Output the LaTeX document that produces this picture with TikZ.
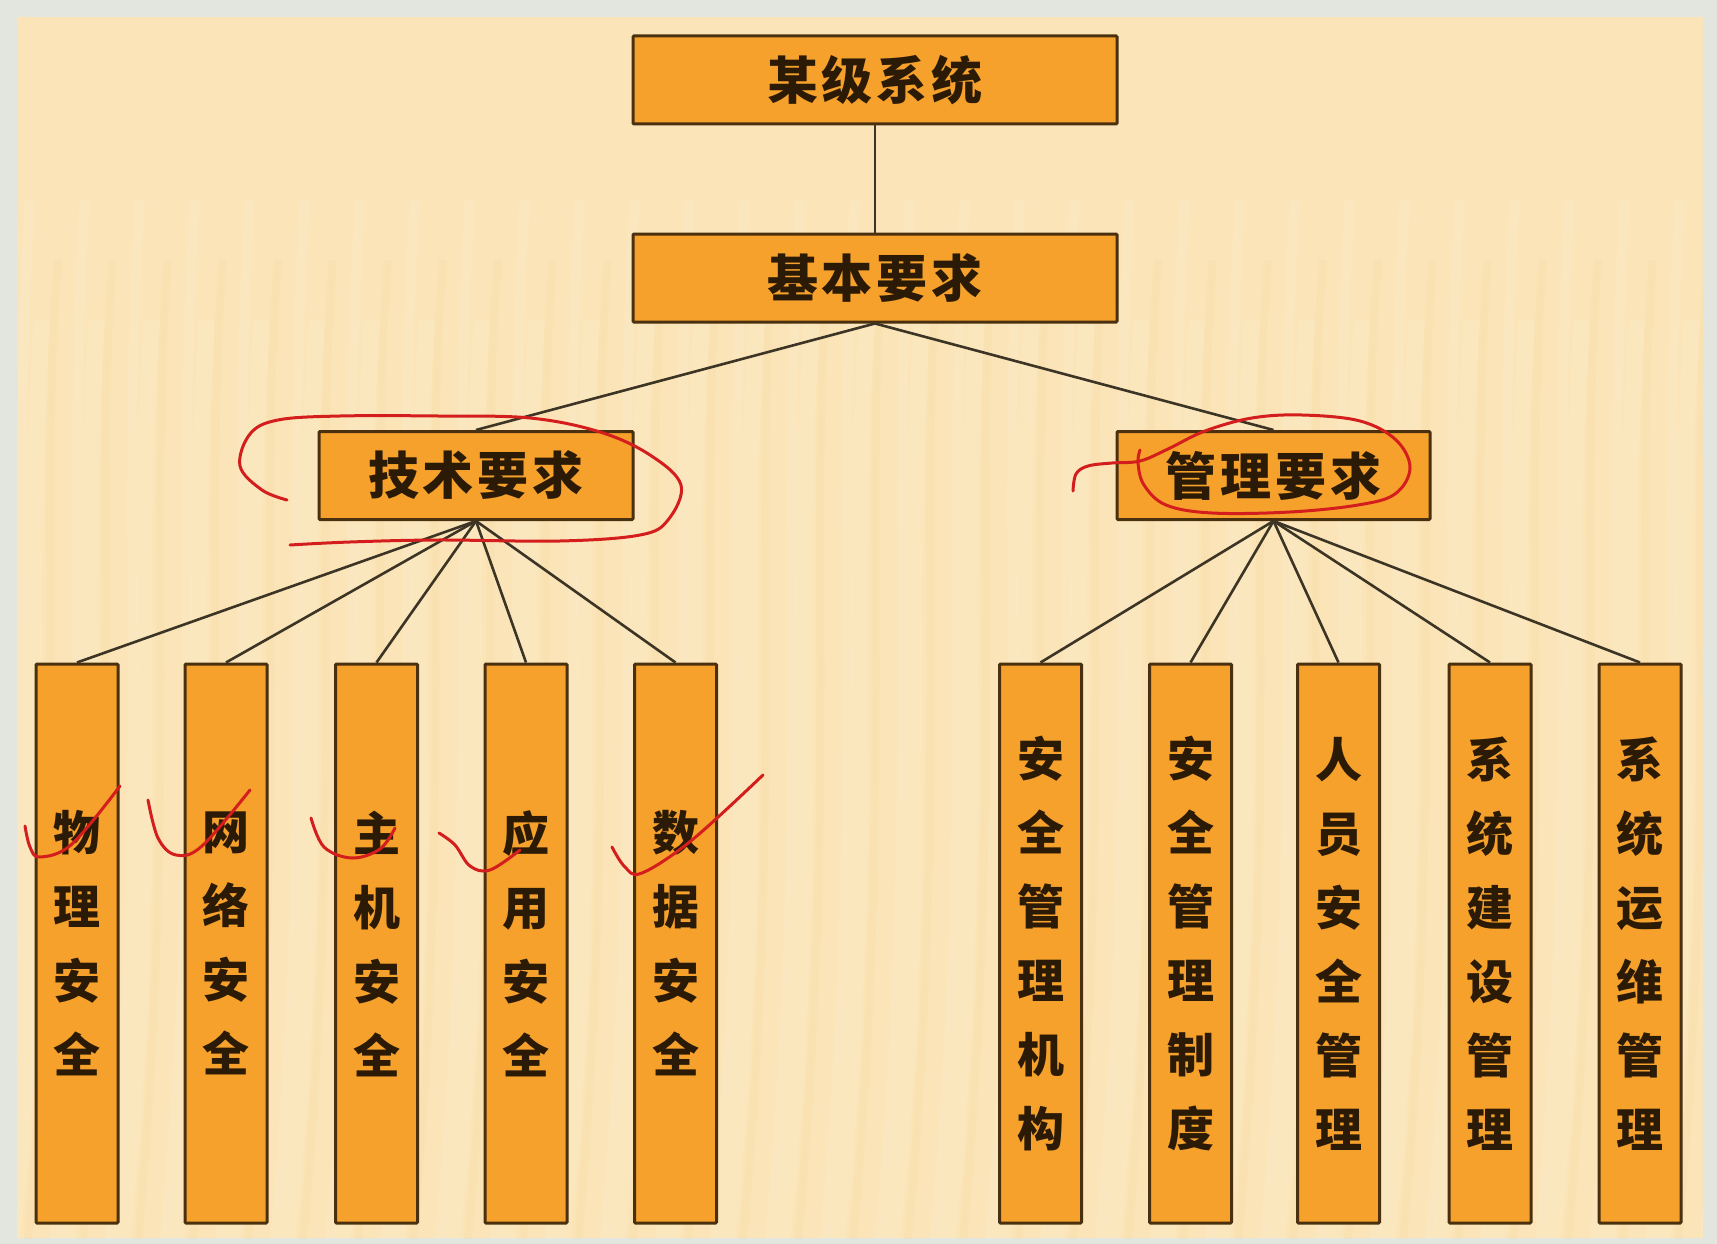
\documentclass[tikz,border=0pt]{standalone}
\usepackage{fontspec}
\newfontfamily\cjk{Noto Sans CJK SC}
\definecolor{bgout}{HTML}{E3E5DF}
\definecolor{bgin}{HTML}{FBE5B8}
\definecolor{boxfill}{HTML}{F6A12C}
\definecolor{boxline}{HTML}{4A300E}
\definecolor{linkc}{HTML}{3C3424}
\definecolor{txtc}{HTML}{2A1A06}
\definecolor{penred}{HTML}{D41E1E}
\newcommand{\gp}{\hspace{4pt}}
\begin{document}
\begin{tikzpicture}[x=1pt,y=-1pt,
  box/.style={draw=boxline, line width=3pt, fill=boxfill, inner sep=0pt, rounded corners=1pt, text=txtc},
  hbox/.style={box, minimum height=88pt, font=\cjk\bfseries\fontsize{51}{56}\selectfont},
  vbox/.style={box, minimum width=82pt, minimum height=559pt, align=center, font=\cjk\bfseries\fontsize{47}{74}\selectfont},
  link/.style={draw=linkc, line width=2.6pt},
  redpen/.style={draw=penred, line width=3pt, line cap=round, line join=round}]
\useasboundingbox (0,0) rectangle (1717,1244);
\fill[bgout] (0,0) rectangle (1717,1244);
\fill[bgin] (17,17) rectangle (1703,1238);
% faint background streaks
\begin{scope}
\clip (17,17) rectangle (1703,1238);
\foreach \x in {30,85,...,1760} {
  \draw[white, opacity=0.10, line width=10pt] (\x,200) .. controls (\x-20,500) and (\x+10,800) .. (\x-30,1240);
  \draw[white, opacity=0.08, line width=16pt] (\x+12,320) .. controls (\x-8,600) and (\x+22,850) .. (\x-18,1240);
  \draw[brown!60!orange, opacity=0.035, line width=8pt] (\x+28,260) .. controls (\x+8,500) and (\x+38,800) .. (\x-2,1240);
}
\end{scope}

% boxes
\node[hbox, minimum width=484pt] (top) at (875,80) {某\gp 级\gp 系\gp 统};
\node[hbox, minimum width=484pt] (basic) at (875,278) {基\gp 本\gp 要\gp 求};
\node[hbox, minimum width=314pt] (tech) at (476,475.5) {技\gp 术\gp 要\gp 求};
\node[hbox, minimum width=313pt] (mgmt) at (1273.5,475.5) {管\gp 理\gp 要\gp 求};

\node[vbox] (t1) at (77,943.5) {物\\理\\安\\全};
\node[vbox] (t2) at (226,943.5) {网\\络\\安\\全};
\node[vbox] (t3) at (376.5,943.5) {主\\机\\安\\全};
\node[vbox] (t4) at (526,943.5) {应\\用\\安\\全};
\node[vbox] (t5) at (675.5,943.5) {数\\据\\安\\全};

\node[vbox] (m1) at (1040.5,943.5) {安\\全\\管\\理\\机\\构};
\node[vbox] (m2) at (1190.5,943.5) {安\\全\\管\\理\\制\\度};
\node[vbox] (m3) at (1338.5,943.5) {人\\员\\安\\全\\管\\理};
\node[vbox] (m4) at (1490,943.5) {系\\统\\建\\设\\管\\理};
\node[vbox] (m5) at (1640,943.5) {系\\统\\运\\维\\管\\理};

% connectors
\draw[link] (top.south) -- (basic.north);
\draw[link] (basic.south) -- (tech.north);
\draw[link] (basic.south) -- (mgmt.north);
\foreach \c in {t1,t2,t3,t4,t5} \draw[link] (tech.south) -- (\c.north);
\foreach \c in {m1,m2,m3,m4,m5} \draw[link] (mgmt.south) -- (\c.north);

% red hand-drawn annotations
\draw[redpen] plot[smooth, tension=0.6] coordinates {(287,500) (262,490) (240,466) (250,434) (278,420) (340,416) (438,416) (530,418) (600,432) (650,455) (681,485) (668,520) (640,535) (560,541) (438,540) (350,542) (290,545)};
\draw[redpen] plot[smooth, tension=0.6] coordinates {(1073,491) (1076,474) (1088,466) (1112,463) (1140,461) (1168,449) (1205,431) (1252,418) (1302,415) (1360,421) (1396,440) (1410,468) (1395,494) (1358,505) (1290,512) (1212,513) (1166,505) (1144,485) (1138,463) (1140,450)};
\draw[redpen] plot[smooth, tension=0.6] coordinates {(25,826) (30,847) (40,857) (72,844) (120,786)};
\draw[redpen] plot[smooth, tension=0.6] coordinates {(148,800) (158,838) (176,855) (202,846) (250,790)};
\draw[redpen] plot[smooth, tension=0.6] coordinates {(311,818) (324,847) (352,858) (380,849) (395,828)};
\draw[redpen] plot[smooth, tension=0.6] coordinates {(439,833) (455,845) (470,866) (490,870) (520,850)};
\draw[redpen] plot[smooth, tension=0.6] coordinates {(612,847) (625,867) (642,873) (692,840) (763,775)};
\end{tikzpicture}
\end{document}
